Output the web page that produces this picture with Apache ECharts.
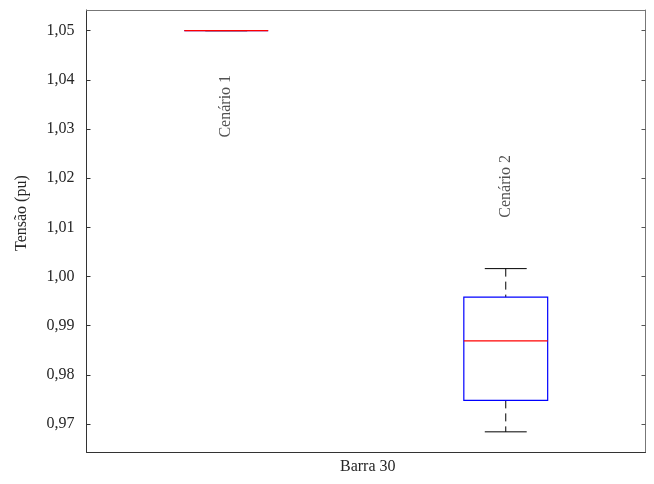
<!DOCTYPE html>
<html>
<head>
<meta charset="utf-8">
<script src="https://cdn.jsdelivr.net/npm/echarts@6/dist/echarts.min.js"></script>
<style>html,body{margin:0;padding:0;background:#fff}#c{width:654px;height:484px}</style>
</head>
<body>
<div id="c"></div>
<script>
var categories = ['Cenário 1', 'Cenário 2'];
var whiskerLow  = [1.05, 0.9684];
var quartile1   = [1.05, 0.9748];
var medians     = [1.05, 0.9869];
var quartile3   = [1.05, 0.9958];
var whiskerHigh = [1.05, 1.0016];
var yTicks = [0.97, 0.98, 0.99, 1.00, 1.01, 1.02, 1.03, 1.04, 1.05];
var labelTops = [1.041, 1.0247];

var FONT = '"Liberation Serif", "DejaVu Serif", serif';
var TXT = '#262626';

var boxData = categories.map(function (c, i) {
  return [i, whiskerLow[i], quartile1[i], medians[i], quartile3[i], whiskerHigh[i]];
});
var labelData = categories.map(function (c, i) { return [i, labelTops[i], c]; });

var chart = echarts.init(document.getElementById('c'), null, {renderer: 'canvas'});

function renderBox(params, api) {
  var x = api.value(0);
  var pLow = api.coord([x, api.value(1)]);
  var pQ1 = api.coord([x, api.value(2)]);
  var pMed = api.coord([x, api.value(3)]);
  var pQ3 = api.coord([x, api.value(4)]);
  var pHigh = api.coord([x, api.value(5)]);
  var bw = api.size([1, 0])[0] * 0.3;
  var cx = pMed[0];
  var children = [
    {type: 'line', shape: {x1: cx, y1: pHigh[1], x2: cx, y2: pQ3[1]}, style: {stroke: '#000', lineWidth: 1, lineDash: [8, 5]}},
    {type: 'line', shape: {x1: cx, y1: pQ1[1], x2: cx, y2: pLow[1]}, style: {stroke: '#000', lineWidth: 1, lineDash: [8, 5]}},
    {type: 'line', shape: {x1: cx - bw / 4, y1: pHigh[1], x2: cx + bw / 4, y2: pHigh[1]}, style: {stroke: '#000', lineWidth: 1}},
    {type: 'line', shape: {x1: cx - bw / 4, y1: pLow[1], x2: cx + bw / 4, y2: pLow[1]}, style: {stroke: '#000', lineWidth: 1}},
    {type: 'rect', shape: {x: cx - bw / 2, y: pQ3[1], width: bw, height: pQ1[1] - pQ3[1]}, style: {fill: 'none', stroke: '#0000ff', lineWidth: 1.2}},
    {type: 'line', shape: {x1: cx - bw / 2, y1: pMed[1], x2: cx + bw / 2, y2: pMed[1]}, style: {stroke: '#ff0000', lineWidth: 1.2}}
  ];
  return {type: 'group', children: children};
}

var option = {
  backgroundColor: '#fff',
  animation: false,
  grid: {left: 86.5, right: 8.5, top: 10, bottom: 32, containLabel: false},
  xAxis: [{
    type: 'category', data: categories, position: 'bottom',
    boundaryGap: true,
    axisLine: {lineStyle: {color: '#333', width: 1}},
    axisTick: {inside: true, length: 4, alignWithLabel: true, lineStyle: {color: '#333'}},
    axisLabel: {show: false},
    splitLine: {show: false}
  }, {
    type: 'category', data: categories, position: 'top',
    boundaryGap: true,
    axisLine: {lineStyle: {color: '#777', width: 1}},
    axisTick: {inside: true, length: 4, alignWithLabel: true, lineStyle: {color: '#555'}},
    axisLabel: {show: false},
    splitLine: {show: false}
  }],
  yAxis: [{
    type: 'value', min: 0.9643, max: 1.0542, position: 'left',
    axisLine: {show: true, lineStyle: {color: '#333', width: 1}},
    axisTick: {show: true, inside: true, length: 4, customValues: yTicks, lineStyle: {color: '#333'}},
    axisLabel: {customValues: yTicks, margin: 12, color: TXT, fontFamily: FONT, fontSize: 16,
      formatter: function (v) { return v.toFixed(2).replace('.', ','); }},
    splitLine: {show: false}
  }, {
    type: 'value', min: 0.9643, max: 1.0542, position: 'right',
    axisLine: {show: true, lineStyle: {color: '#777', width: 1}},
    axisTick: {show: true, inside: true, length: 4, customValues: yTicks, lineStyle: {color: '#555'}},
    axisLabel: {show: false},
    splitLine: {show: false}
  }],
  graphic: [
    {type: 'text', left: 340, top: 459, style: {text: 'Barra 30', font: '16px ' + FONT, fill: TXT}},
    {type: 'text', x: 14, y: 251, rotation: Math.PI / 2, style: {text: 'Tensão (pu)', font: '16px ' + FONT, fill: TXT, verticalAlign: 'top'}}
  ],
  series: [{
    type: 'custom', xAxisIndex: 0, yAxisIndex: 0,
    renderItem: renderBox, data: boxData, silent: true
  }, {
    type: 'scatter', xAxisIndex: 0, yAxisIndex: 0, symbolSize: 0, silent: true,
    data: labelData,
    label: {show: true, position: 'inside', rotate: 90, align: 'right', verticalAlign: 'middle',
      formatter: function (p) { return p.data[2]; },
      color: TXT, fontFamily: FONT, fontSize: 16}
  }]
};
chart.setOption(option);
</script>
</body>
</html>
